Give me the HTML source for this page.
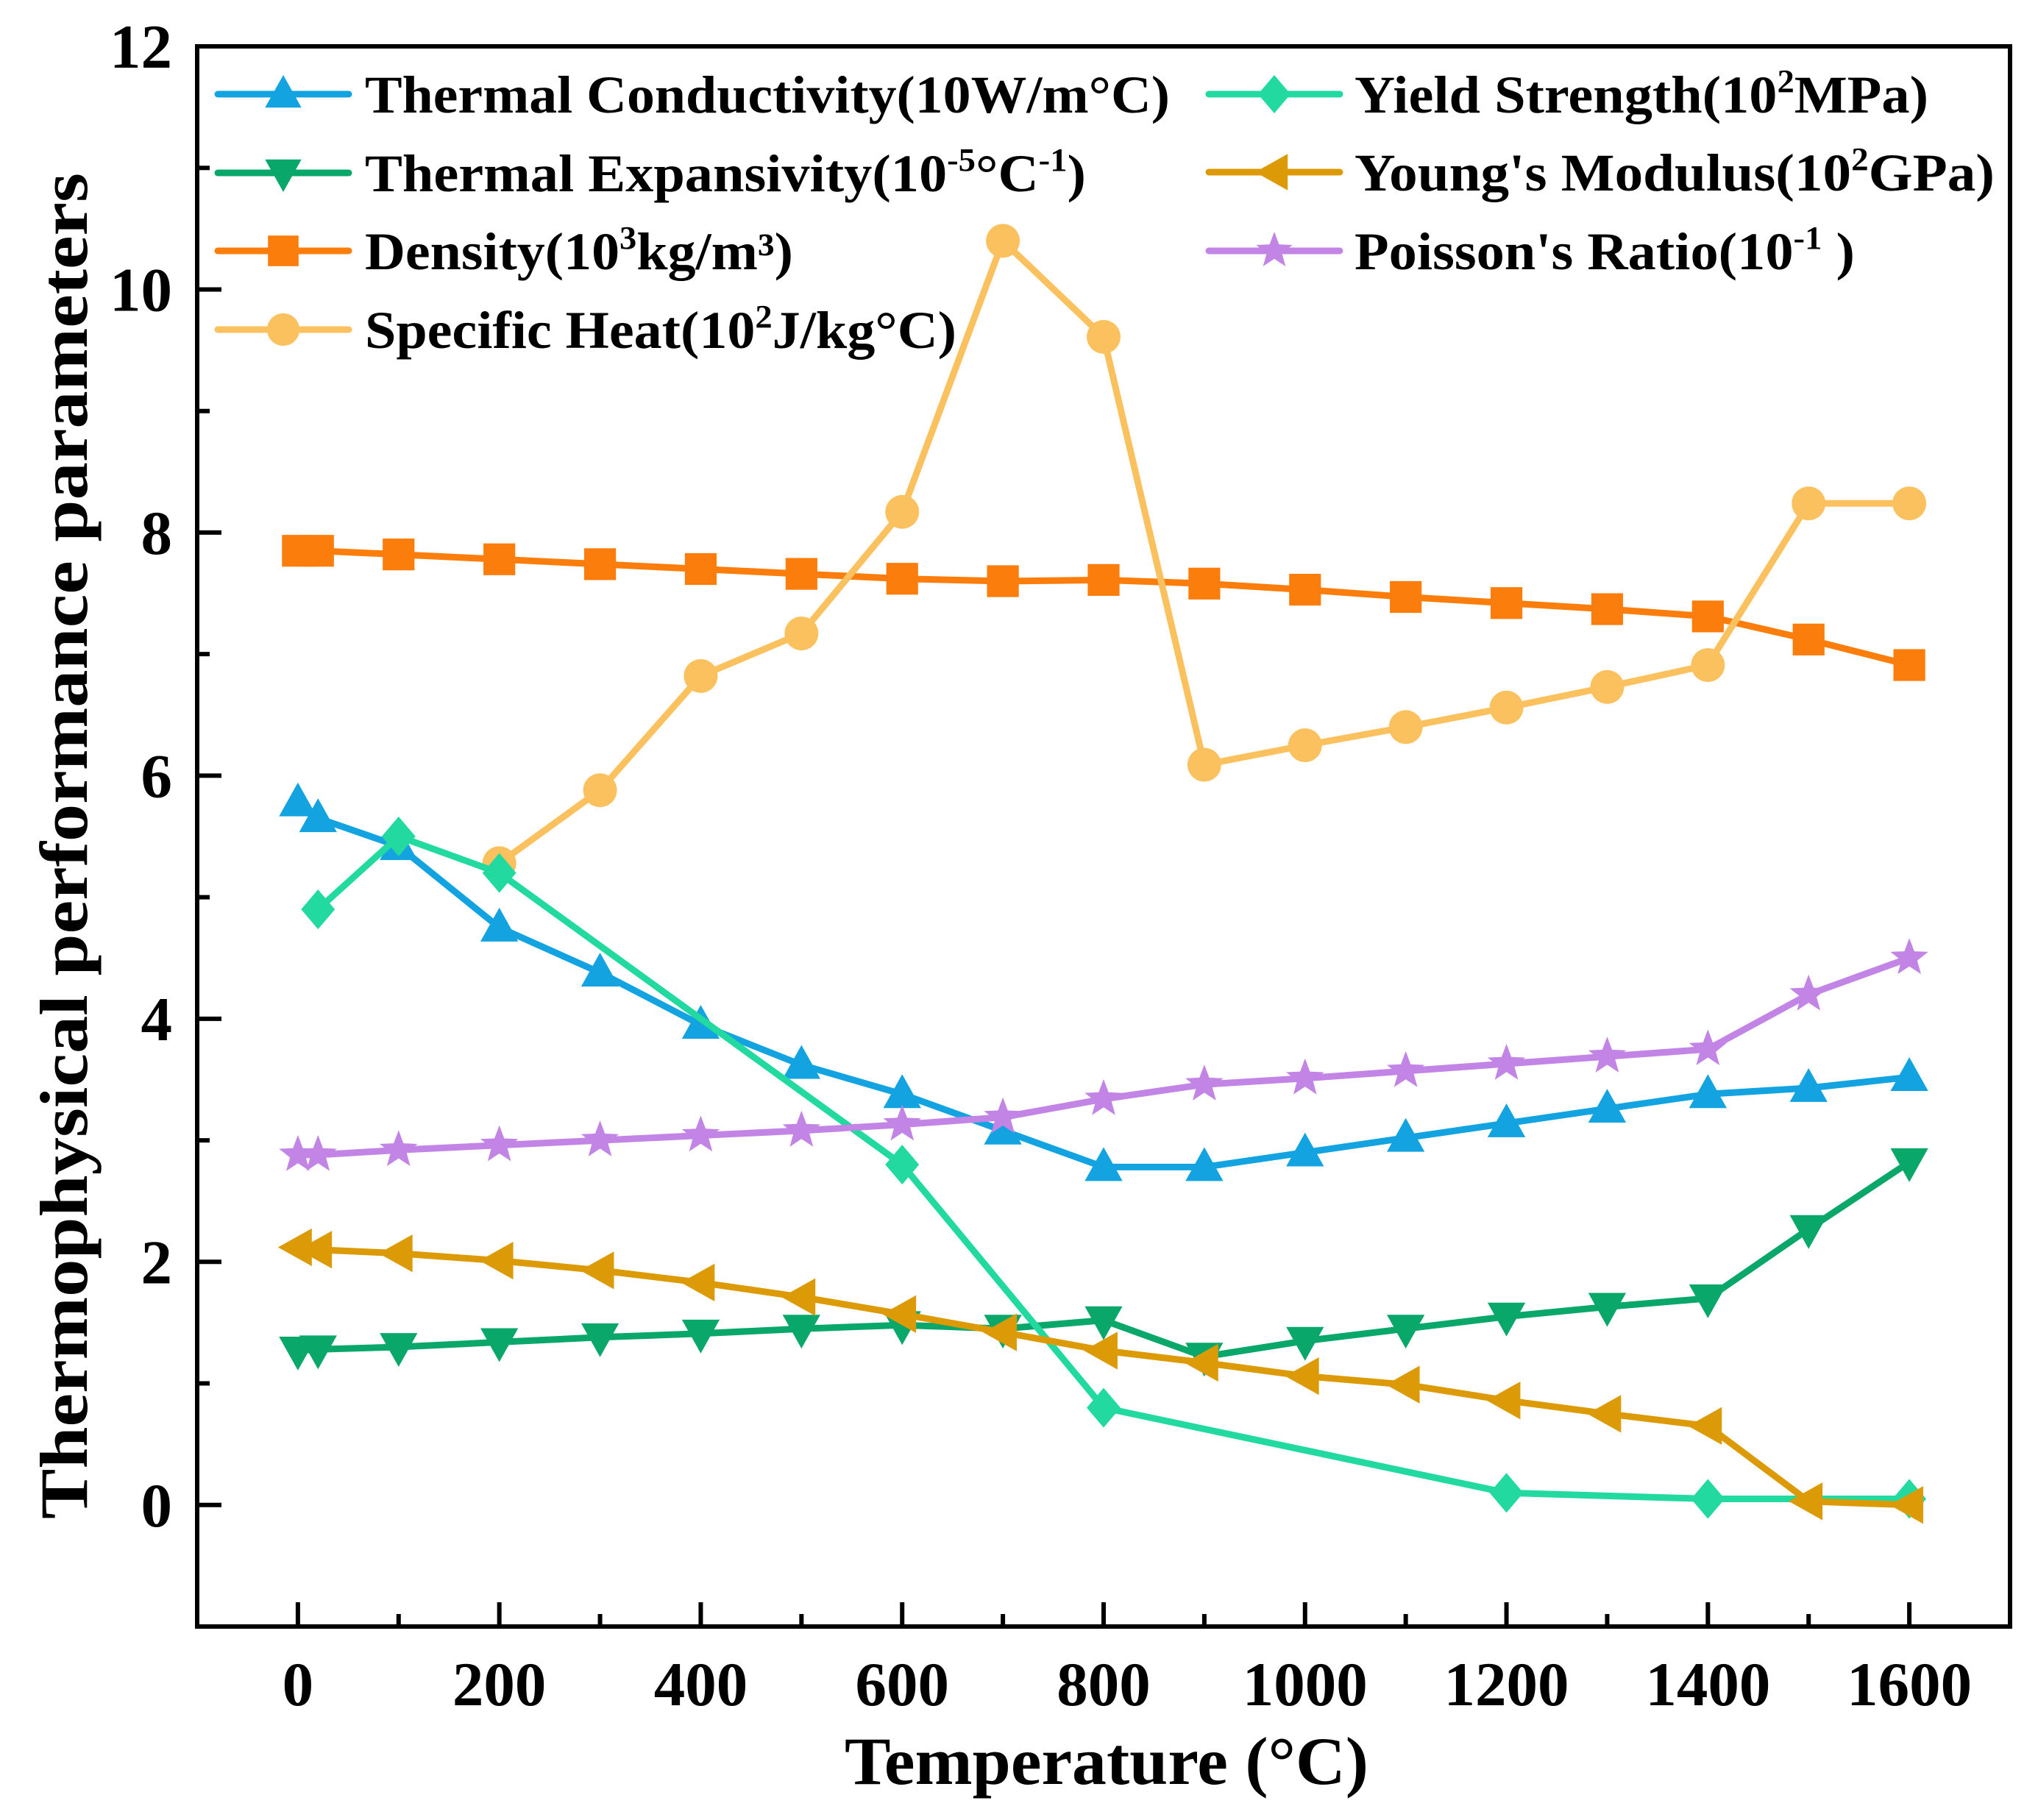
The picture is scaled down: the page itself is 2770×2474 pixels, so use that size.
<!DOCTYPE html>
<html><head><meta charset="utf-8">
<style>
html,body{margin:0;padding:0;background:#fff;}
svg{display:block;font-family:"Liberation Serif",serif;font-weight:bold;}
</style></head>
<body>
<svg id="chart" width="2770" height="2474" viewBox="0 0 2770 2474" xmlns="http://www.w3.org/2000/svg">
<g id="plot"></g>
<g id="axes"></g>
<g id="legend"></g>
</svg>
<script>
const xs = [0,20,100,200,300,400,500,600,700,800,900,1000,1100,1200,1300,1400,1500,1600];
const condX = xs;
const condY = [5.78,5.65,5.42,4.75,4.38,3.95,3.62,3.38,3.08,2.78,2.78,2.90,3.02,3.14,3.26,3.38,3.43,3.52];
const expX = xs;
const expY = [1.27,1.28,1.30,1.34,1.38,1.41,1.45,1.48,1.45,1.52,1.22,1.35,1.45,1.55,1.63,1.70,2.27,2.82];
const densX = xs;
const densY = [7.85,7.85,7.82,7.78,7.74,7.70,7.66,7.62,7.60,7.61,7.58,7.53,7.47,7.42,7.37,7.31,7.12,6.91];
const heatX = [200,300,400,500,600,700,800,900,1000,1100,1200,1300,1400,1500,1600];
const heatY = [5.28,5.88,6.82,7.17,8.17,10.40,9.61,6.09,6.25,6.40,6.56,6.73,6.91,8.24,8.24];
const yieldX = [20,100,200,600,800,1200,1400,1600];
const yieldY = [4.90,5.50,5.20,2.80,0.80,0.10,0.05,0.05];
const youngX = xs;
const youngY = [2.12,2.10,2.07,2.01,1.93,1.83,1.71,1.57,1.42,1.27,1.17,1.06,0.99,0.86,0.75,0.65,0.03,0.00];
const poisX = xs;
const poisY = [2.88,2.88,2.92,2.96,3.00,3.04,3.08,3.13,3.19,3.34,3.46,3.51,3.57,3.63,3.69,3.75,4.20,4.50];
const xTicks = [0,200,400,600,800,1000,1200,1400,1600];
const xTickLabels = ["0","200","400","600","800","1000","1200","1400","1600"];
const yTicks = [0,2,4,6,8,10,12];
const yTickLabels = ["0","2","4","6","8","10","12"];

const NS="http://www.w3.org/2000/svg";
const L=268,R=2732,T=63,B=2211;
const X0=-100,X1=1700,Y0=-1,Y1=12;
function sx(v){return L+(v-X0)/(X1-X0)*(R-L);}
function sy(v){return B-(v-Y0)/(Y1-Y0)*(B-T);}
function mk(tag,attrs,parent){const e=document.createElementNS(NS,tag);for(const k in attrs)e.setAttribute(k,attrs[k]);parent.appendChild(e);return e;}

function marker(shape,cx,cy,s,color,parent){
  let e;
  if(shape==='up') e=mk('polygon',{points:`${cx},${cy-s} ${cx-s*0.95},${cy+s*0.7} ${cx+s*0.95},${cy+s*0.7}`,fill:color},parent);
  else if(shape==='down') e=mk('polygon',{points:`${cx},${cy+s} ${cx-s*0.95},${cy-s*0.7} ${cx+s*0.95},${cy-s*0.7}`,fill:color},parent);
  else if(shape==='left') e=mk('polygon',{points:`${cx-s},${cy} ${cx+s*0.7},${cy-s*0.95} ${cx+s*0.7},${cy+s*0.95}`,fill:color},parent);
  else if(shape==='square') e=mk('rect',{x:cx-s*0.8,y:cy-s*0.8,width:s*1.6,height:s*1.6,fill:color},parent);
  else if(shape==='circle') e=mk('circle',{cx:cx,cy:cy,r:s*0.85,fill:color},parent);
  else if(shape==='diamond') e=mk('polygon',{points:`${cx},${cy-s} ${cx+s*0.85},${cy} ${cx},${cy+s} ${cx-s*0.85},${cy}`,fill:color},parent);
  else {
    let p=[];for(let i=0;i<10;i++){const r=i%2?s*0.42:s;const a=-Math.PI/2+i*Math.PI/5;p.push((cx+r*Math.cos(a)).toFixed(1)+','+(cy+r*Math.sin(a)).toFixed(1));}
    e=mk('polygon',{points:p.join(' '),fill:color},parent);
  }
  return e;
}

const series=[
 {name:'thermal-conductivity',X:condX,Y:condY,color:'#12a3e0',shape:'up'},
 {name:'thermal-expansivity',X:expX,Y:expY,color:'#0aa76a',shape:'down'},
 {name:'density',X:densX,Y:densY,color:'#fb7d0c',shape:'square'},
 {name:'specific-heat',X:heatX,Y:heatY,color:'#fbc15e',shape:'circle'},
 {name:'yield-strength',X:yieldX,Y:yieldY,color:'#22d9a0',shape:'diamond'},
 {name:'youngs-modulus',X:youngX,Y:youngY,color:'#dc9a06',shape:'left'},
 {name:'poissons-ratio',X:poisX,Y:poisY,color:'#c285e6',shape:'star'}
];
const plot=document.getElementById('plot');
series.forEach(s=>{
  const g=mk('g',{},plot);
  
  
  const pts=s.X.map((x,i)=>sx(x).toFixed(1)+','+sy(s.Y[i]).toFixed(1)).join(' ');
  const line=mk('polyline',{points:pts,fill:'none',stroke:s.color,'stroke-width':9,'stroke-linejoin':'round'},g);
  
  
  s.X.forEach((x,i)=>{
    const m=marker(s.shape,sx(x),sy(s.Y[i]),27,s.color,g);
    
    
  });
});

const ax=document.getElementById('axes');
const frame=mk('rect',{x:L,y:T,width:R-L,height:B-T,fill:'none',stroke:'#000','stroke-width':6},ax);


xTicks.forEach((v,i)=>{
  const x=sx(v);
  mk('line',{x1:x,y1:B,x2:x,y2:B-33,stroke:'#000','stroke-width':6},ax);
  const mx=sx(v+100);
  if(v+100<X1) mk('line',{x1:mx,y1:B,x2:mx,y2:B-17,stroke:'#000','stroke-width':6},ax);
  const t=mk('text',{x:x,y:2318,'text-anchor':'middle','font-size':85},ax);
  t.textContent=xTickLabels[i];
  
  
});
yTicks.forEach((v,i)=>{
  const y=sy(v);
  mk('line',{x1:L,y1:y,x2:L+33,y2:y,stroke:'#000','stroke-width':6},ax);
  if(v+1<Y1) mk('line',{x1:L,y1:sy(v+1),x2:L+17,y2:sy(v+1),stroke:'#000','stroke-width':6},ax);
  const t=mk('text',{x:234,y:y+29,'text-anchor':'end','font-size':85},ax);
  t.textContent=yTickLabels[i];
  
  
});
mk('line',{x1:L,y1:sy(-1),x2:L+17,y2:sy(-1),stroke:'#000','stroke-width':6},ax);

const xt=mk('text',{x:1504,y:2425,'text-anchor':'middle','font-size':92,textLength:712,lengthAdjust:'spacingAndGlyphs'},ax);
xt.textContent='Temperature (°C)';


const yt=mk('text',{x:0,y:0,'text-anchor':'middle','font-size':92,textLength:1830,lengthAdjust:'spacingAndGlyphs',transform:'translate(118,1150) rotate(-90)'},ax);
yt.textContent='Thermophysical performance parameters';



const lg=document.getElementById('legend');
const entries=[
 {s:0,x:296,tx:496,y:128,w:1094,parts:[['Thermal Conductivity(10W/m°C)']]},
 {s:1,x:296,tx:496,y:235,w:980,parts:[['Thermal Expansivity(10'],['-5','sup'],['°C'],['-1','sup'],[')']]},
 {s:2,x:296,tx:496,y:341,w:582,parts:[['Density(10'],['3','sup'],['kg/m³)']]},
 {s:3,x:296,tx:496,y:448,w:804,parts:[['Specific Heat(10'],['2','sup'],['J/kg°C)']]},
 {s:4,x:1643,tx:1841,y:128,w:780,parts:[['Yield Strength(10'],['2','sup'],['MPa)']]},
 {s:5,x:1643,tx:1841,y:234,w:870,parts:[['Young\'s Modulus(10'],['2','sup'],['GPa)']]},
 {s:6,x:1643,tx:1841,y:341,w:680,parts:[['Poisson\'s Ratio(10'],['-1','sup'],[' )']]}
];
entries.forEach(e=>{
  const s=series[e.s];
  const g=mk('g',{},lg);
  
  
  mk('line',{x1:e.x,y1:e.y,x2:e.x+178,y2:e.y,stroke:s.color,'stroke-width':9,'stroke-linecap':'round'},g);
  marker(s.shape,e.x+89,e.y,26,s.color,g);
  const t=mk('text',{x:e.tx,y:e.y+25,'font-size':72,textLength:e.w,lengthAdjust:'spacingAndGlyphs'},g);
  e.parts.forEach((p,idx)=>{
    const ts=mk('tspan',{},t);
    if(p[1]==='sup'){ts.setAttribute('font-size','44');ts.setAttribute('dy','-28');}
    else if(idx>0 && e.parts[idx-1][1]==='sup'){ts.setAttribute('dy','28');}
    ts.textContent=p[0];
  });
  
  
});
</script>
</body></html>
